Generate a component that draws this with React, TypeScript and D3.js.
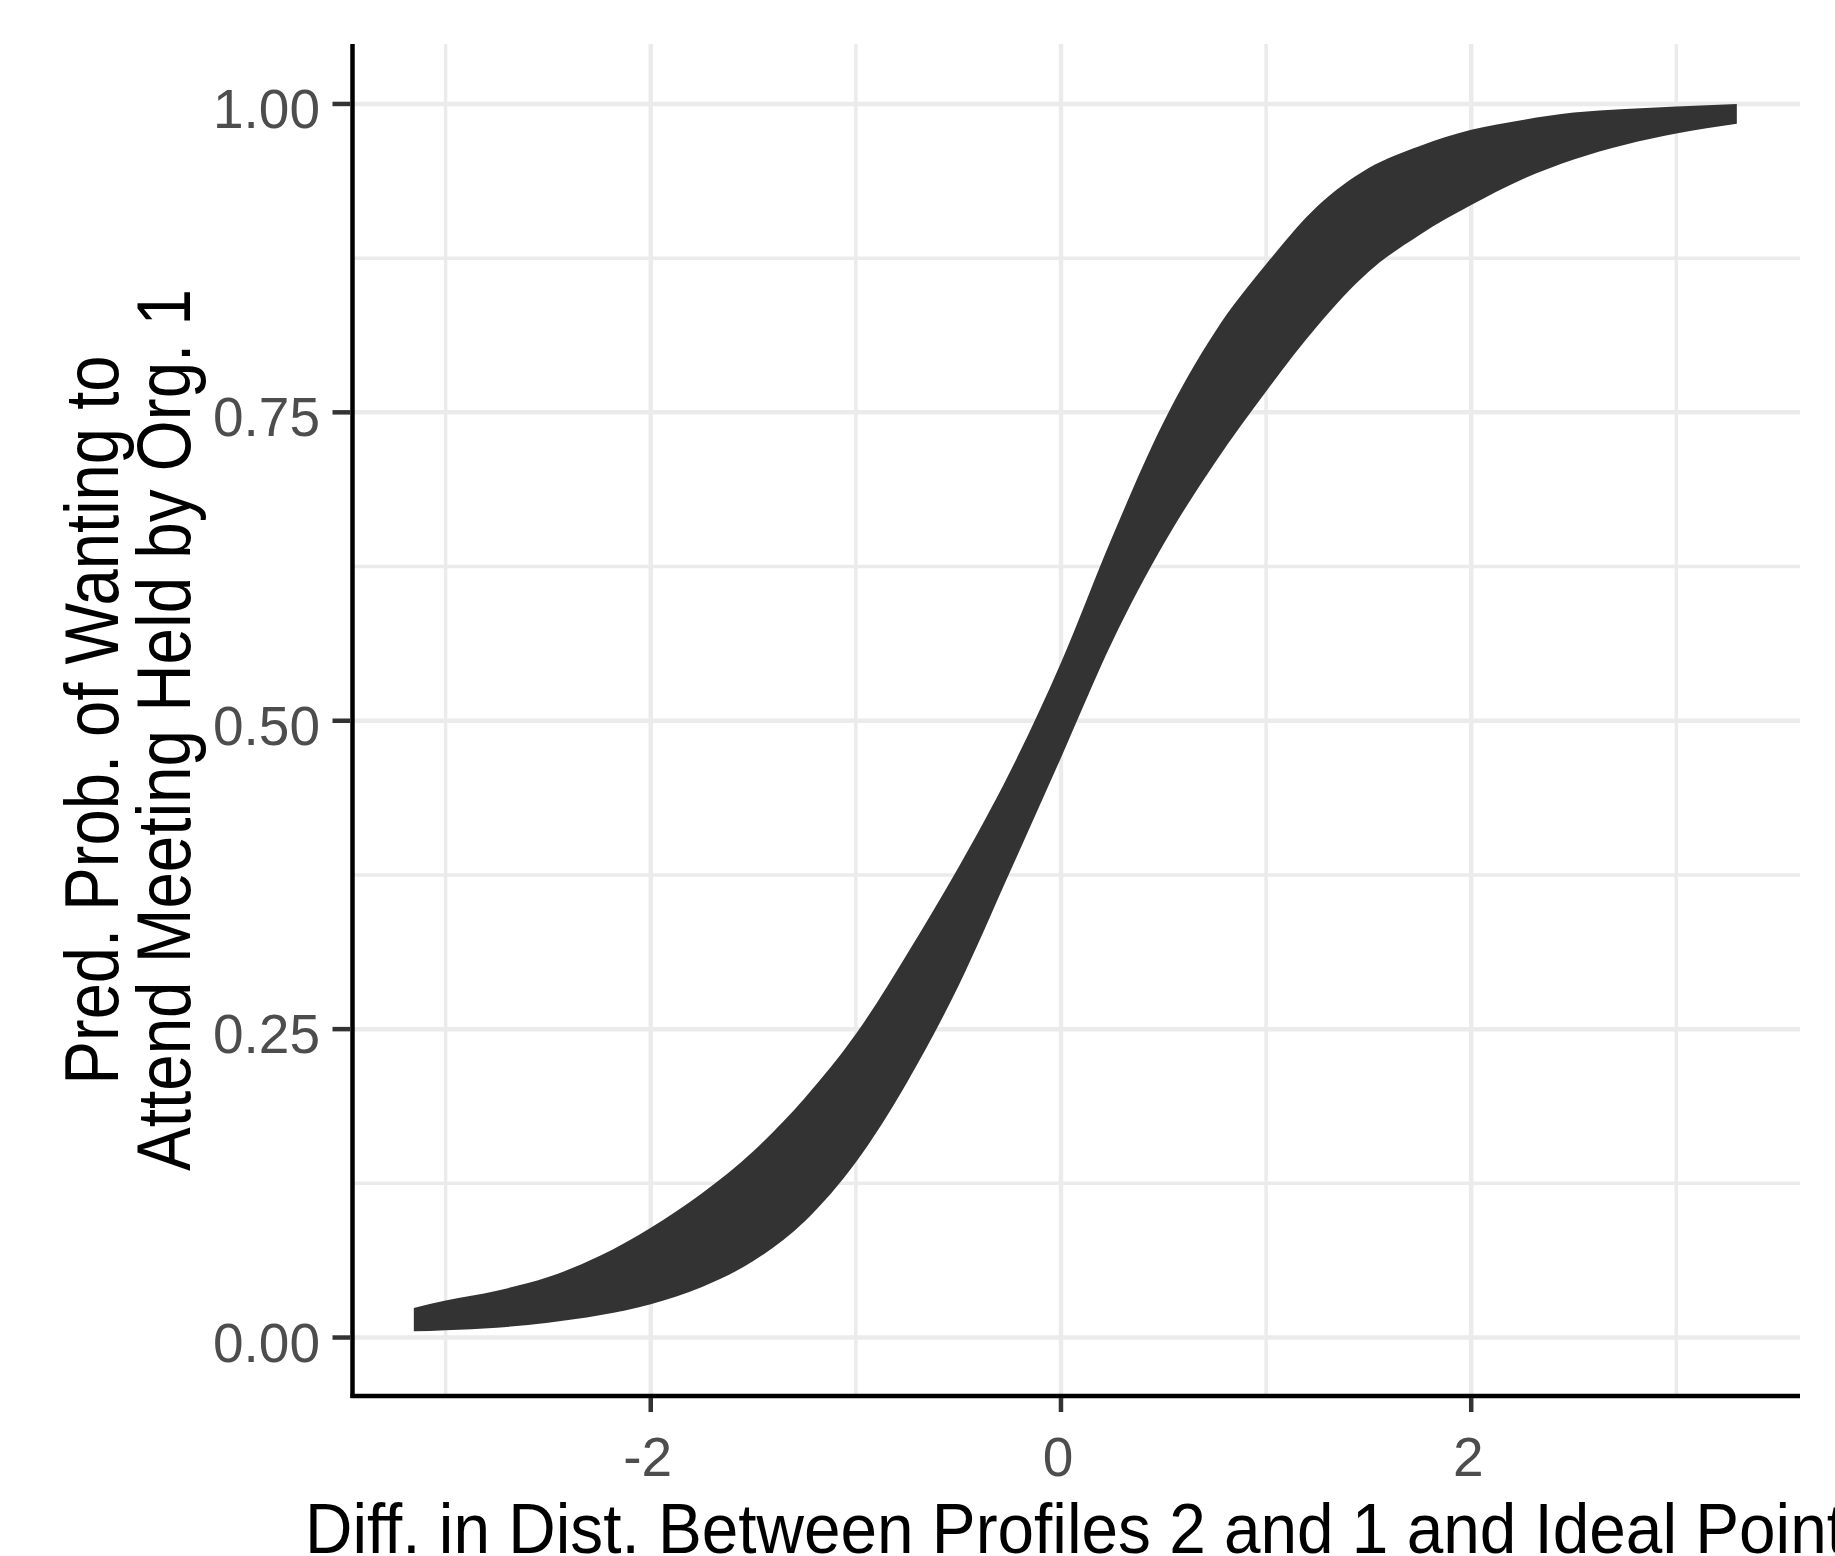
import React, { useRef, useEffect } from 'react';
import * as d3 from 'd3';

// x grid of the band, with the upper and lower edge
const diffDist = [-3.155, -3.0, -2.75, -2.5, -2.25, -2.0, -1.75, -1.5, -1.25, -1.0, -0.75, -0.5, -0.25, 0, 0.25, 0.5, 0.75, 1.0, 1.25, 1.5, 1.75, 2.0, 2.25, 2.5, 2.75, 3.0, 3.295];
const probUpper = [0.024, 0.03, 0.038, 0.049, 0.066, 0.089, 0.117, 0.151, 0.194, 0.246, 0.311, 0.381, 0.458, 0.547, 0.649, 0.742, 0.815, 0.87, 0.917, 0.948, 0.966, 0.979, 0.987, 0.993, 0.996, 0.998, 1.0];
const probLower = [0.005, 0.006, 0.008, 0.012, 0.018, 0.027, 0.041, 0.062, 0.094, 0.142, 0.207, 0.285, 0.377, 0.47, 0.564, 0.643, 0.709, 0.767, 0.82, 0.864, 0.894, 0.918, 0.939, 0.955, 0.967, 0.976, 0.984];

const xTicks = [-2, 0, 2];
const xMinor = [-3, -1, 1, 3];
const yTicks = [0, 0.25, 0.5, 0.75, 1];
const yMinor = [0.125, 0.375, 0.625, 0.875];

const xTitle = 'Diff. in Dist. Between Profiles 2 and 1 and Ideal Point';
const yTitleLines = ['Pred. Prob. of Wanting to', 'Attend Meeting Held by Org. 1'];

const FONT = '"Liberation Sans", Arial, sans-serif';

const App = () => {
  const ref = useRef<SVGSVGElement>(null);

  useEffect(() => {
    const width = 1835;
    const height = 1556;
    const panel = { left: 352.5, right: 1800, top: 44, bottom: 1396 };

    const svg = d3.select(ref.current)
      .attr('width', width)
      .attr('height', height);
    svg.selectAll('*').remove();

    const x = d3.scaleLinear()
      .domain([-3.454, 3.603])
      .range([panel.left, panel.right]);
    const y = d3.scaleLinear()
      .domain([-0.0474, 1.0486])
      .range([panel.bottom, panel.top]);

    svg.append('rect')
      .attr('width', width)
      .attr('height', height)
      .attr('fill', '#ffffff');

    // grid
    const grid = svg.append('g').attr('stroke', '#EBEBEB');
    grid.selectAll('.ymin').data(yMinor).enter().append('line')
      .attr('x1', panel.left).attr('x2', panel.right)
      .attr('y1', d => y(d)).attr('y2', d => y(d))
      .attr('stroke-width', 3.5);
    grid.selectAll('.xmin').data(xMinor).enter().append('line')
      .attr('y1', panel.top).attr('y2', panel.bottom)
      .attr('x1', d => x(d)).attr('x2', d => x(d))
      .attr('stroke-width', 3.5);
    grid.selectAll('.ymaj').data(yTicks).enter().append('line')
      .attr('x1', panel.left).attr('x2', panel.right)
      .attr('y1', d => y(d)).attr('y2', d => y(d))
      .attr('stroke-width', 4.5);
    grid.selectAll('.xmaj').data(xTicks).enter().append('line')
      .attr('y1', panel.top).attr('y2', panel.bottom)
      .attr('x1', d => x(d)).attr('x2', d => x(d))
      .attr('stroke-width', 4.5);

    // ribbon
    const band = diffDist.map((d, i) => ({ x: d, lo: probLower[i], hi: probUpper[i] }));
    const area = d3.area<{ x: number; lo: number; hi: number }>()
      .x(d => x(d.x))
      .y0(d => y(d.lo))
      .y1(d => y(d.hi))
      .curve(d3.curveMonotoneX);
    svg.append('path')
      .datum(band)
      .attr('d', area)
      .attr('fill', '#333333');

    // axis lines
    svg.append('line')
      .attr('x1', panel.left).attr('x2', panel.left)
      .attr('y1', panel.top).attr('y2', panel.bottom + 2)
      .attr('stroke', '#000').attr('stroke-width', 4.5);
    svg.append('line')
      .attr('x1', panel.left - 2).attr('x2', panel.right)
      .attr('y1', panel.bottom).attr('y2', panel.bottom)
      .attr('stroke', '#000').attr('stroke-width', 4.5);

    // ticks
    svg.selectAll('.yt').data(yTicks).enter().append('line')
      .attr('x1', panel.left - 20).attr('x2', panel.left - 2)
      .attr('y1', d => y(d)).attr('y2', d => y(d))
      .attr('stroke', '#333333').attr('stroke-width', 4.5);
    svg.selectAll('.xt').data(xTicks).enter().append('line')
      .attr('x1', d => x(d)).attr('x2', d => x(d))
      .attr('y1', panel.bottom + 2).attr('y2', panel.bottom + 16)
      .attr('stroke', '#333333').attr('stroke-width', 4.5);

    // tick labels
    svg.selectAll('.yl').data(yTicks).enter().append('text')
      .attr('x', 320)
      .attr('y', d => y(d) + 24)
      .attr('text-anchor', 'end')
      .attr('font-family', FONT)
      .attr('font-size', 55)
      .attr('fill', '#4D4D4D')
      .text(d => d3.format('.2f')(d));
    svg.selectAll('.xl').data(xTicks).enter().append('text')
      .attr('x', d => x(d) - 3)
      .attr('y', 1476)
      .attr('text-anchor', 'middle')
      .attr('font-family', FONT)
      .attr('font-size', 55)
      .attr('fill', '#4D4D4D')
      .text(d => (d < 0 ? '-' + Math.abs(d) : String(d)));

    // axis titles (the x title runs past the right edge, as in the original)
    svg.append('text')
      .attr('x', 305)
      .attr('y', 1553)
      .attr('font-family', FONT)
      .attr('font-size', 70)
      .attr('fill', '#000')
      .attr('textLength', 1540)
      .attr('lengthAdjust', 'spacingAndGlyphs')
      .text(xTitle);

    const yPos = [{ bx: 118, cy: 720, len: 729 }, { bx: 190, cy: 730, len: 882 }];
    yTitleLines.forEach((line, i) => {
      svg.append('text')
        .attr('transform', `translate(${yPos[i].bx},${yPos[i].cy}) rotate(-90)`)
        .attr('text-anchor', 'middle')
        .attr('font-family', FONT)
        .attr('font-size', 76)
        .attr('fill', '#000')
        .attr('textLength', yPos[i].len)
        .attr('lengthAdjust', 'spacingAndGlyphs')
        .text(line);
    });
  }, []);

  return (
    <svg ref={ref} style={{ position: 'absolute', left: 0, top: 0, display: 'block' }}></svg>
  );
};

export default App;
